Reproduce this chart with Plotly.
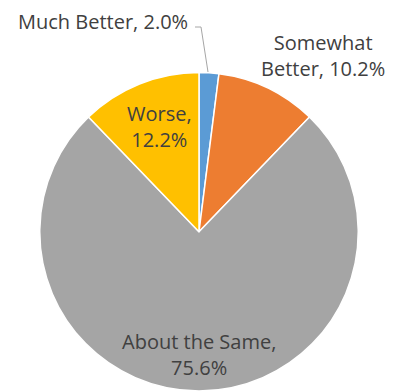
import plotly.graph_objects as go

categories = ["Much Better", "Somewhat Better", "About the Same", "Worse"]
values = [2.0, 10.2, 75.6, 12.2]
colors = ["#5B9BD5", "#ED7D31", "#A5A5A5", "#FFC000"]
label_text = ["Much Better, 2.0%", "Somewhat<br>Better, 10.2%", "About the Same,<br>75.6%", "Worse,<br>12.2%"]
label_pos = [(103, 22), (323, 56), (199, 354), (159, 126)]

OFF = 8  # default body margin of the html page
W, H = 395 - OFF, 391 - OFF


def px(x):
    return (x - OFF) / W


def py(y):
    return 1 - (y - OFF) / H


fig = go.Figure(go.Pie(
    labels=categories, values=values, sort=False, direction="clockwise", rotation=0,
    marker=dict(colors=colors, line=dict(color="white", width=1.5)),
    textinfo="none", hoverinfo="label+percent", showlegend=False,
    domain=dict(x=[px(39.5), px(358.5)], y=[0, py(72.5)]),
))

for txt, (x, y) in zip(label_text, label_pos):
    fig.add_annotation(x=px(x), y=py(y), xref="paper", yref="paper", text=txt,
                       showarrow=False, xanchor="center", yanchor="middle",
                       font=dict(family="Open Sans", size=20, color="#404040"))

# leader line for the small slice
fig.add_shape(type="path", xref="paper", yref="paper",
              path=f"M {px(195)} {py(27)} L {px(201)} {py(27)} L {px(208)} {py(72)}",
              line=dict(color="#A6A6A6", width=1))

fig.update_layout(width=W, height=H, margin=dict(l=0, r=0, t=0, b=0),
                  paper_bgcolor="white", plot_bgcolor="white")
fig.write_html("out.html")
